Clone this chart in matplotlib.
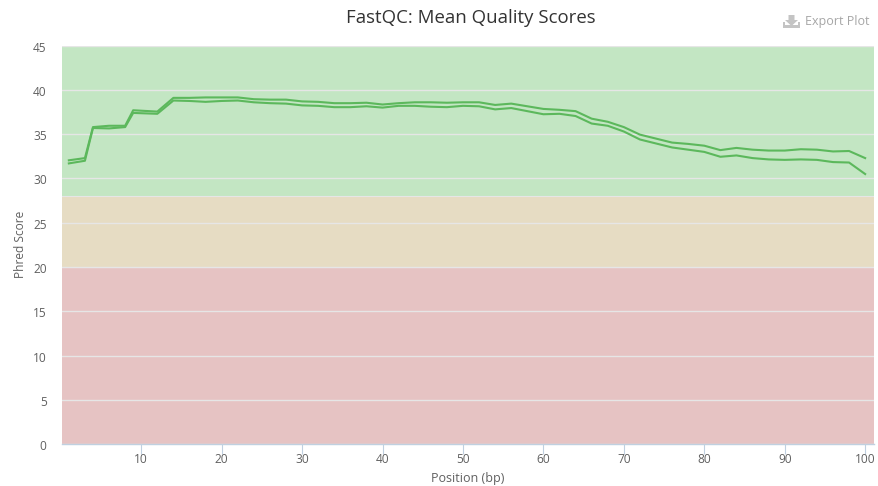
import matplotlib
matplotlib.use("Agg")
import matplotlib.pyplot as plt
from matplotlib.patches import Polygon, Rectangle
from matplotlib.transforms import ScaledTranslation

plt.rcParams['font.family'] = ['Open Sans', 'DejaVu Sans']

positions = [1, 3, 4, 6, 8, 9, 12, 14, 16, 18, 20, 22, 24, 26, 28, 30, 32, 34, 36, 38,
             40, 42, 44, 46, 48, 50, 52, 54, 56, 58, 60, 62, 64, 66, 68, 70, 72, 74,
             76, 78, 80, 82, 84, 86, 88, 90, 92, 94, 96, 98, 100]
read_upper = [32.05, 32.3, 35.8, 35.95, 35.95, 37.7, 37.55, 39.1, 39.1, 39.15, 39.15, 39.15,
              38.95, 38.9, 38.9, 38.7, 38.65, 38.5, 38.5, 38.55, 38.35, 38.5, 38.6, 38.6,
              38.55, 38.6, 38.6, 38.3, 38.45, 38.15, 37.85, 37.75, 37.6, 36.75, 36.4, 35.8,
              34.95, 34.5, 34.05, 33.9, 33.7, 33.2, 33.45, 33.25, 33.15, 33.15, 33.3, 33.25,
              33.05, 33.1, 32.3]
read_lower = [31.7, 32.0, 35.7, 35.65, 35.8, 37.4, 37.3, 38.8, 38.75, 38.65, 38.75, 38.8,
              38.6, 38.5, 38.45, 38.25, 38.2, 38.05, 38.05, 38.15, 38.0, 38.2, 38.2, 38.1,
              38.05, 38.2, 38.15, 37.8, 37.95, 37.6, 37.25, 37.3, 37.05, 36.2, 35.95, 35.3,
              34.4, 33.95, 33.5, 33.25, 33.0, 32.45, 32.6, 32.3, 32.15, 32.1, 32.15, 32.1,
              31.85, 31.8, 30.5]
y_ticks = [0, 5, 10, 15, 20, 25, 30, 35, 40, 45]
x_ticks = [10, 20, 30, 40, 50, 60, 70, 80, 90, 100]
bands = [(28, 45, '#c3e6c3'), (20, 28, '#e6dcc3'), (0, 20, '#e6c3c3')]

W, H = 879, 486
fig = plt.figure(figsize=(W / 100, H / 100), dpi=100, facecolor='white')
ax = fig.add_axes([62 / W, (H - 444.2) / H, (874 - 62) / W, (444.2 - 45.6) / H])
ax.set_xlim(0.15, 101.1)
ax.set_ylim(0, 45)

# Quality zones behind the traces
for low, high, colour in bands:
    ax.axhspan(low, high, color=colour, lw=0, zorder=0)
ax.axhline(28, color='#e6e6e6', lw=0.8, zorder=1)
ax.axhline(20, color='#e6e6e6', lw=0.8, zorder=1)

ax.grid(axis='y', color='#e6e6e6', lw=1, zorder=1)
ax.set_axisbelow(True)

for values in (read_upper, read_lower):
    ax.plot(positions, values, color='#5cb85c', lw=1.5, zorder=3, solid_joinstyle='round')

for name in ('top', 'left', 'right'):
    ax.spines[name].set_visible(False)
ax.spines['bottom'].set_color('#c0d0e0')
ax.spines['bottom'].set_linewidth(1)

ax.set_xticks(x_ticks)
ax.set_yticks(y_ticks)
ax.tick_params(axis='x', length=7, width=0.8, color='#c0d0e0', labelsize=8.6,
               labelcolor='#606060', pad=-1)
ax.tick_params(axis='y', length=0, labelsize=8.6, labelcolor='#606060', pad=11)

# Nudge the value labels slightly below their grid lines
nudge = ScaledTranslation(0, -0.025, fig.dpi_scale_trans)
for label in ax.get_yticklabels():
    label.set_verticalalignment('center')
    label.set_transform(label.get_transform() + nudge)

fig.text(468 / W, (H - 478) / H, 'Position (bp)', ha='center', va='center',
         fontsize=9, color='#606060')
fig.text(20.5 / W, (H - 244.5) / H, 'Phred Score', ha='center', va='center', rotation=90,
         fontsize=8.6, color='#606060')
fig.text(471 / W, (H - 18) / H, 'FastQC: Mean Quality Scores', ha='center', va='center',
         fontsize=13.4, color='#333333')

# Export button: tray with a downward arrow, then its caption
grey = '#c4c4c4'
icon = [
    Rectangle((783 / W, (H - 28) / H), 17 / W, 3 / H),
    Rectangle((783 / W, (H - 28) / H), 2 / W, 6 / H),
    Rectangle((798 / W, (H - 28) / H), 2 / W, 6 / H),
    Polygon([(788.5 / W, (H - 15) / H), (794.5 / W, (H - 15) / H), (794.5 / W, (H - 20) / H),
             (798 / W, (H - 20) / H), (791.5 / W, (H - 26) / H), (785 / W, (H - 20) / H),
             (788.5 / W, (H - 20) / H)]),
]
for patch in icon:
    patch.set(transform=fig.transFigure, facecolor=grey, edgecolor='none')
    fig.add_artist(patch)
fig.text(805 / W, (H - 22) / H, 'Export Plot', ha='left', va='center',
         fontsize=9, color='#a6a6a6')

fig.savefig('out.png', dpi=100)
